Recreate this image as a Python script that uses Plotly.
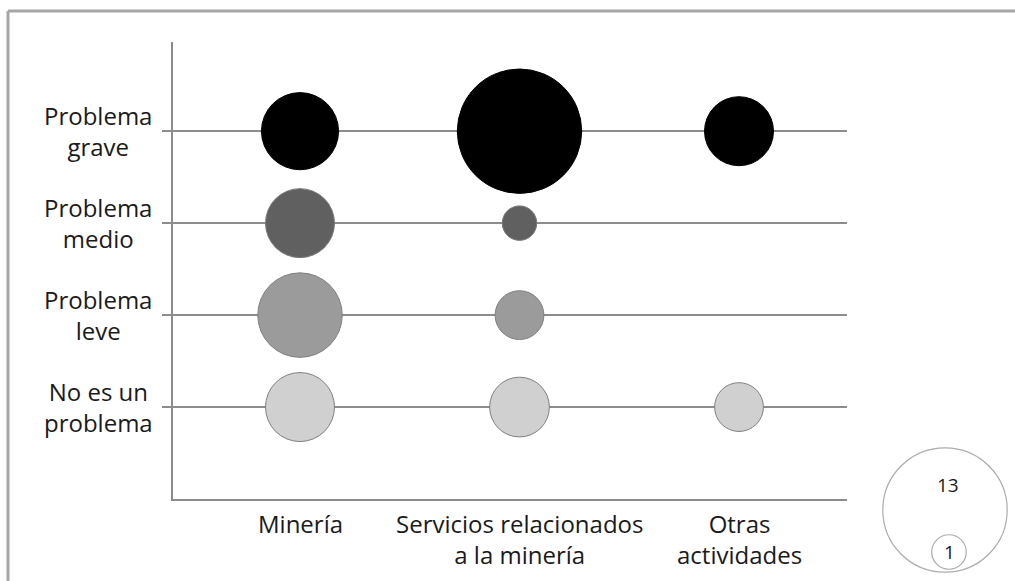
import plotly.graph_objects as go

# datos
sectores = ["Minería", "Servicios relacionados<br>a la minería", "Otras<br>actividades"]
niveles = ["Problema<br>grave", "Problema<br>medio", "Problema<br>leve", "No es un<br>problema"]
grave = [5, 13, 4]
medio = [4, 1, 0]
leve = [6, 2, 0]
no_problema = [4, 3, 2]
leyenda_valores = [13, 1]

W, H = 1015, 581
FONT = "Open Sans"
TXT = "#1a1a1a"
SIZEREF = 2 * 1 / 34.5 ** 2

filas = [
    (grave, 4, "#000000", "#000000"),
    (medio, 3, "#606060", "#7a7a7a"),
    (leve, 2, "#9b9b9b", "#808080"),
    (no_problema, 1, "#d0d0d0", "#808080"),
]

fig = go.Figure()
for valores, ypos, color, borde in filas:
    xs = [i + 1 for i, v in enumerate(valores) if v > 0]
    vs = [v for v in valores if v > 0]
    fig.add_trace(go.Scatter(
        x=xs, y=[ypos] * len(xs), mode="markers",
        marker=dict(size=vs, sizemode="area", sizeref=SIZEREF, color=color,
                    opacity=1, line=dict(color=borde, width=1)),
        showlegend=False, hoverinfo="skip",
    ))

# leyenda de tamanos (ejes en pixeles)
fig.add_trace(go.Scatter(
    x=[945, 949], y=[510, 552], mode="markers", xaxis="x2", yaxis="y2",
    marker=dict(size=leyenda_valores, sizemode="area", sizeref=SIZEREF,
                color="rgba(255,255,255,0)", line=dict(color="#8a8a8a", width=1.2)),
    showlegend=False, hoverinfo="skip",
))
fig.add_annotation(x=948, y=485, xref="x2", yref="y2", text=str(leyenda_valores[0]),
                   showarrow=False, font=dict(family=FONT, size=19, color=TXT))
fig.add_annotation(x=949, y=552, xref="x2", yref="y2", text=str(leyenda_valores[1]),
                   showarrow=False, font=dict(family=FONT, size=19, color=TXT))

# etiquetas eje y
for ypos, txt in zip([4, 3, 2, 1], niveles):
    fig.add_annotation(text=txt, x=98 / W, y=ypos, xref="paper", yref="y",
                       showarrow=False, align="center", xanchor="center", yanchor="middle",
                       font=dict(family=FONT, size=24, color=TXT))

# etiquetas eje x
for xpos, txt in zip([1, 2, 3], sectores):
    fig.add_annotation(text=txt, x=xpos, y=(H - 505) / H, xref="x", yref="paper",
                       showarrow=False, align="center", xanchor="center", yanchor="top",
                       font=dict(family=FONT, size=24, color=TXT))

# marco
fig.add_shape(type="line", xref="paper", yref="paper", x0=8 / W, x1=1, y0=1 - 11 / H, y1=1 - 11 / H,
              line=dict(color="#a6a6a6", width=3))
fig.add_shape(type="line", xref="paper", yref="paper", x0=8 / W, x1=8 / W, y0=0, y1=1 - 11 / H,
              line=dict(color="#a6a6a6", width=3))

fig.update_layout(
    width=W, height=H,
    margin=dict(l=0, r=0, t=0, b=0),
    paper_bgcolor="white", plot_bgcolor="rgba(0,0,0,0)",
    font=dict(family=FONT, color=TXT),
    xaxis=dict(domain=[173 / W, 847 / W], range=[0.4214, 3.492],
               tickvals=[1, 2, 3], showticklabels=False, showgrid=False, zeroline=False,
               showline=True, linecolor="#8c8c8c", linewidth=2, ticks=""),
    yaxis=dict(domain=[(H - 499) / H, (H - 42) / H], range=[0, 4.97],
               tickvals=[1, 2, 3, 4], showticklabels=False, showgrid=True,
               gridcolor="#8c8c8c", gridwidth=2, zeroline=False,
               showline=True, linecolor="#8c8c8c", linewidth=2,
               ticks="outside", ticklen=9, tickcolor="#8c8c8c", tickwidth=2),
    xaxis2=dict(domain=[0, 1], range=[0, W], visible=False, anchor="y2"),
    yaxis2=dict(domain=[0, 1], range=[H, 0], visible=False, anchor="x2"),
)

fig.write_html("out.html", config={"displayModeBar": False},
               post_script="document.body.style.margin='0';")
